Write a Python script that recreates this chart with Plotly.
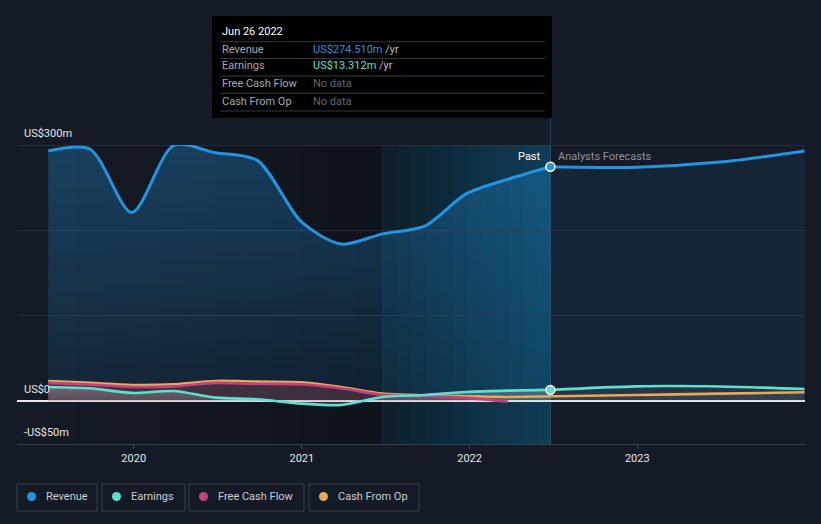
import plotly.graph_objects as go
import pandas as pd

# ---------------- data ----------------
past_dates = ["2019-06-29", "2019-09-28", "2019-12-28", "2020-03-28", "2020-06-27",
              "2020-09-26", "2020-12-31", "2021-03-27", "2021-06-26", "2021-09-25",
              "2021-12-25", "2022-03-26", "2022-06-26"]
revenue_past = [293, 295, 221, 299.5, 291, 282, 210, 184, 196, 205, 243, 260, 274.51]
earnings_past = [16.8, 15.2, 9.8, 12.0, 4.3, 2.3, -2.7, -4.3, 5.0, 7.4, 10.9, 12.5, 13.312]

cf_dates = past_dates[:-1]
fcf_past = [21.5, 19.5, 16.8, 17.5, 21.5, 20.5, 19.9, 15.2, 7.5, 6.0, 4.0, -0.5]
cfo_past = [23.8, 21.5, 19.1, 19.9, 23.8, 23.0, 22.3, 16.8, 9.0, 7.0, 5.9, 5.0]

fc_dates = ["2022-06-26", "2022-12-31", "2023-06-30", "2023-12-31"]
revenue_fc = [274.51, 274, 280, 293]
earnings_fc = [13.312, 17.5, 17.3, 14.4]
cfo_fc_dates = ["2022-03-26", "2022-12-31", "2023-06-30", "2023-12-31"]
cfo_fc = [5.0, 7.4, 9.0, 10.5]

x_tick_vals = ["2020-01-01", "2021-01-01", "2022-01-01", "2023-01-01"]
x_tick_text = ["2020", "2021", "2022", "2023"]
y_tick_vals = [300, 0, -50]
y_tick_text = ["US$300m", "US$0", "-US$50m"]

tooltip_date = "Jun 26 2022"
tooltip_rows = [("Revenue", "US$274.510m", "#2394df"),
                ("Earnings", "US$13.312m", "#5de0d0"),
                ("Free Cash Flow", None, None),
                ("Cash From Op", None, None)]

legend_items = [("Revenue", "#2394df"), ("Earnings", "#5de0d0"),
                ("Free Cash Flow", "#c0437e"), ("Cash From Op", "#e8a95c")]

# ---------------- colours ----------------
BG = "#151b26"
C_REV = "#2394df"
C_EAR = "#5de0d0"
C_FCF = "#c0437e"
C_CFO = "#e8a95c"

band_start = "2021-06-26"
band_end = "2022-06-26"
data_start = past_dates[0]

fig = go.Figure()
SM = 0.8

# fills
fig.add_trace(go.Scatter(x=past_dates, y=revenue_past, mode="lines", line=dict(width=0, shape="spline", smoothing=SM),
                         fill="tozeroy",
                         fillgradient=dict(type="vertical",
                                           colorscale=[[0, "rgba(35,148,223,0.10)"], [1, "rgba(35,148,223,0.32)"]]),
                         hoverinfo="skip"))
fig.add_trace(go.Scatter(x=fc_dates, y=revenue_fc, mode="lines", line=dict(width=0, shape="spline", smoothing=SM),
                         fill="tozeroy", fillcolor="rgba(35,148,223,0.09)", hoverinfo="skip"))
fig.add_trace(go.Scatter(x=cf_dates, y=cfo_past, mode="lines", line=dict(width=0, shape="spline", smoothing=SM),
                         fill="tozeroy", fillcolor="rgba(200,90,100,0.24)", hoverinfo="skip"))
fig.add_trace(go.Scatter(x=cfo_fc_dates, y=cfo_fc, mode="lines", line=dict(width=0, shape="spline", smoothing=SM),
                         fill="tozeroy", fillcolor="rgba(200,200,200,0.08)", hoverinfo="skip"))
fig.add_trace(go.Scatter(x=past_dates, y=earnings_past, mode="lines", line=dict(width=0, shape="spline", smoothing=SM),
                         fill="tozeroy",
                         fillgradient=dict(type="vertical",
                                           colorscale=[[0, "rgba(200,200,200,0.12)"], [1, "rgba(200,200,200,0.35)"]]),
                         hoverinfo="skip"))
fig.add_trace(go.Scatter(x=fc_dates, y=earnings_fc, mode="lines", line=dict(width=0, shape="spline", smoothing=SM),
                         fill="tozeroy", fillcolor="rgba(200,200,200,0.10)", hoverinfo="skip"))

# lines
lw = 2.6
fig.add_trace(go.Scatter(x=cf_dates, y=cfo_past, mode="lines", line=dict(color=C_CFO, width=lw, shape="spline", smoothing=SM)))
fig.add_trace(go.Scatter(x=cfo_fc_dates, y=cfo_fc, mode="lines", line=dict(color=C_CFO, width=lw, shape="spline", smoothing=SM)))
fig.add_trace(go.Scatter(x=cf_dates, y=fcf_past, mode="lines", line=dict(color=C_FCF, width=lw, shape="spline", smoothing=SM)))
fig.add_trace(go.Scatter(x=past_dates, y=earnings_past, mode="lines", line=dict(color=C_EAR, width=lw, shape="spline", smoothing=SM)))
fig.add_trace(go.Scatter(x=fc_dates, y=earnings_fc, mode="lines", line=dict(color=C_EAR, width=lw, shape="spline", smoothing=SM)))
fig.add_trace(go.Scatter(x=past_dates, y=revenue_past, mode="lines", line=dict(color=C_REV, width=3, shape="spline", smoothing=SM)))
fig.add_trace(go.Scatter(x=fc_dates, y=revenue_fc, mode="lines", line=dict(color=C_REV, width=3, shape="spline", smoothing=SM)))

# hover markers
fig.add_trace(go.Scatter(x=[past_dates[-1]], y=[revenue_past[-1]], mode="markers",
                         marker=dict(color=C_REV, size=9, line=dict(color="white", width=1.5))))
fig.add_trace(go.Scatter(x=[past_dates[-1]], y=[earnings_past[-1]], mode="markers",
                         marker=dict(color=C_EAR, size=9, line=dict(color="white", width=1.5))))

shapes = []
ds = pd.Timestamp(data_start)
bs = pd.Timestamp(band_start)
be = pd.Timestamp(band_end)
n = 12
for i in range(n):
    a = ds + (bs - ds) * i / n
    b = ds + (bs - ds) * (i + 1) / n
    shapes.append(dict(type="rect", xref="x", yref="paper", x0=a, x1=b, y0=0, y1=1,
                       fillcolor=f"rgba(0,0,0,{0.02 + 0.26 * (i + 0.5) / n:.3f})", line=dict(width=0), layer="below"))
for i in range(n):
    a = bs + (be - bs) * i / n
    b = bs + (be - bs) * (i + 1) / n
    t = (i + 0.5) / n
    g = int(40 + 95 * t)
    bl = int(50 + 145 * t)
    al = 0.35 - 0.03 * t
    shapes.append(dict(type="rect", xref="x", yref="paper", x0=a, x1=b, y0=0, y1=1,
                       fillcolor=f"rgba(0,{g},{bl},{al:.3f})", line=dict(width=0), layer="below"))
# band start edge + hover line
shapes.append(dict(type="line", xref="x", yref="paper", x0=band_start, x1=band_start, y0=0, y1=1,
                   line=dict(color="rgba(60,150,190,0.15)", width=1), layer="below"))
shapes.append(dict(type="line", xref="x", yref="paper", x0=band_end, x1=band_end, y0=0, y1=1.09,
                   line=dict(color="rgba(60,150,190,0.35)", width=1), layer="below"))
# brighter top gridline
shapes.append(dict(type="line", xref="paper", yref="y", x0=0, x1=1, y0=300, y1=300,
                   line=dict(color="#3a414b", width=1), layer="below"))


def px_x(p):
    return (p - 17) / 788


def px_y(p):
    return (444 - p) / 299


# tooltip
shapes.append(dict(type="rect", xref="paper", yref="paper", x0=px_x(212), x1=px_x(552), y0=px_y(118), y1=px_y(16),
                   fillcolor="#000000", line=dict(width=0), layer="above"))
for yy in [41.7, 58.5, 76, 93.3, 111]:
    shapes.append(dict(type="line", xref="paper", yref="paper", x0=px_x(220), x1=px_x(545), y0=px_y(yy), y1=px_y(yy),
                       line=dict(color="#34383e", width=1), layer="above"))

annotations = []
FONT = "Roboto, Noto Sans, sans-serif"
annotations.append(dict(xref="paper", yref="paper", x=px_x(220), y=px_y(31), text=tooltip_date, showarrow=False,
                        xanchor="left", yanchor="middle", font=dict(color="#ffffff", size=11, family=FONT)))
row_y = [49, 66, 84, 101]
for (lab, val, col), yy in zip(tooltip_rows, row_y):
    annotations.append(dict(xref="paper", yref="paper", x=px_x(220), y=px_y(yy), text=lab, showarrow=False,
                            xanchor="left", yanchor="middle", font=dict(color="#a6aab0", size=11, family=FONT)))
    if val is None:
        txt = "<span style='color:#62666c'>No data</span>"
    else:
        txt = f"<span style='color:{col}'>{val}</span><span style='color:#b8bcc2'> /yr</span>"
    annotations.append(dict(xref="paper", yref="paper", x=px_x(311), y=px_y(yy), text=txt, showarrow=False,
                            xanchor="left", yanchor="middle", font=dict(size=11, family=FONT)))

# y labels
for v, t in zip(y_tick_vals, y_tick_text):
    annotations.append(dict(xref="paper", yref="y", x=0, y=v, text=t, showarrow=False, xanchor="left",
                            yanchor="bottom", xshift=5, yshift=3, font=dict(color="#e6e8ea", size=11, family=FONT)))

# Past / Analysts Forecasts
annotations.append(dict(xref="x", yref="paper", x=band_end, y=px_y(156), text="Past", showarrow=False,
                        xanchor="right", yanchor="middle", xshift=-7, font=dict(color="#ffffff", size=11, family=FONT)))
annotations.append(dict(xref="x", yref="paper", x=band_end, y=px_y(156), text="Analysts Forecasts", showarrow=False,
                        xanchor="left", yanchor="middle", xshift=6, font=dict(color="#8d9298", size=11, family=FONT)))

# legend boxes
boxes = [(17, 97), (102, 185), (189, 304), (309, 419)]
for (lab, col), (x0, x1) in zip(legend_items, boxes):
    shapes.append(dict(type="rect", xref="paper", yref="paper", x0=px_x(x0), x1=px_x(x1),
                       y0=px_y(511), y1=px_y(484), fillcolor="rgba(0,0,0,0)",
                       line=dict(color="#3a404a", width=1), layer="above"))
    shapes.append(dict(type="circle", xref="paper", yref="paper", x0=px_x(x0 + 10), x1=px_x(x0 + 19),
                       y0=px_y(501), y1=px_y(492), fillcolor=col, line=dict(width=0), layer="above"))
    annotations.append(dict(xref="paper", yref="paper", x=px_x(x0 + 27), y=px_y(496.5), text=lab,
                            showarrow=False, xanchor="left", yanchor="middle",
                            font=dict(color="#c9cdd2", size=11, family=FONT)))

fig.update_layout(
    width=821, height=524,
    margin=dict(l=17, r=16, t=145, b=80),
    paper_bgcolor=BG, plot_bgcolor=BG,
    showlegend=False,
    shapes=shapes, annotations=annotations,
    font=dict(family=FONT, color="#e6e8ea", size=11),
    xaxis=dict(type="date", range=["2019-04-22", "2024-01-01"], tickvals=x_tick_vals, ticktext=x_tick_text,
               showgrid=False, showline=True, linecolor="#3b414b", linewidth=1,
               ticks="outside", ticklen=4, tickcolor="#3b414b", zeroline=False,
               tickfont=dict(color="#e6e8ea", size=11, family=FONT)),
    yaxis=dict(range=[-50, 300], tickvals=[0, 100, 200, 300], showticklabels=False,
               gridcolor="#262c36", gridwidth=1, zeroline=True, zerolinecolor="#e8eaec", zerolinewidth=1.5,
               fixedrange=True),
    hovermode=False,
)

fig.write_html("out.html", config={"displayModeBar": False},
               post_script="document.body.style.margin='0';document.body.style.background='#151b26';")
